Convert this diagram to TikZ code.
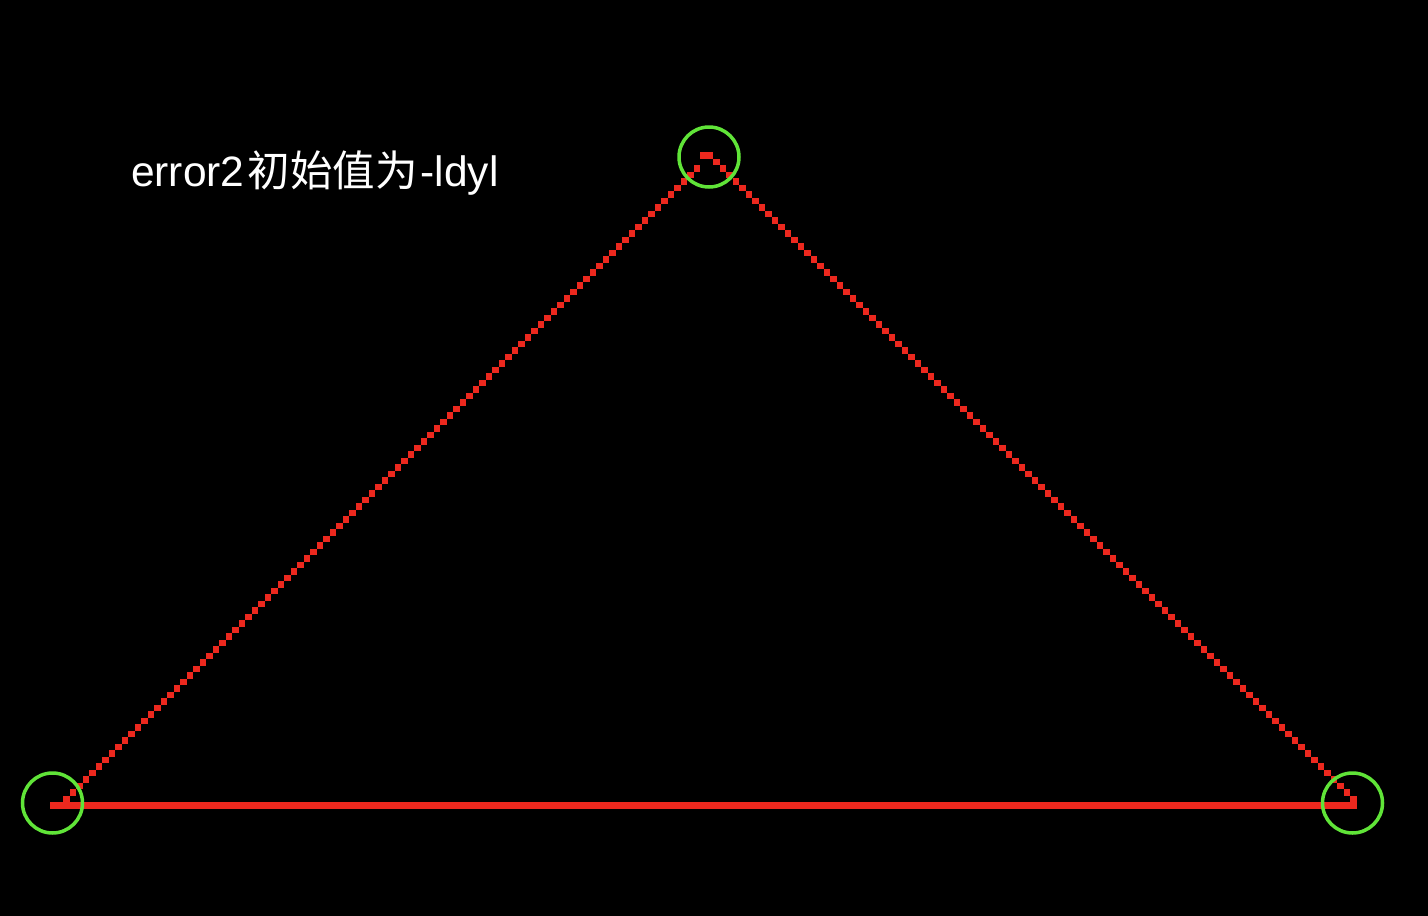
\documentclass[tikz,border=0pt]{standalone}
\usepackage{fontspec}
\setmainfont{Liberation Sans}
\newfontfamily\cjk{Noto Sans CJK SC}
\definecolor{pxred}{RGB}{236,40,30}
\definecolor{ringgreen}{RGB}{96,228,56}
\begin{document}
\begin{tikzpicture}[x=1pt,y=-1pt,
  px/.style={fill=pxred},
  ring/.style={draw=ringgreen,line width=3.5pt,circle,minimum size=60pt,inner sep=0pt}]
\fill[black] (0,0) rectangle (1428,916);
\useasboundingbox (0,0) rectangle (1428,916);
% bottom line (row 0)
\fill[px] (50,802) rectangle (1356.5,808.5);
% left edge
\foreach \r in {1,...,98}
  \fill[px] ({50+6.5*(\r+1)},{802-6.5*\r}) rectangle ++(6.5,6.5);
% apex
\fill[px] (700,152) rectangle (713,158.5);
% right edge
\foreach \r in {1,...,99}
  \fill[px] ({50+6.5*(201-\r)},{802-6.5*\r}) rectangle ++(6.5,6.5);
% rings
\node[ring] (bl) at (52.5,803) {};
\node[ring] (top) at (709,157) {};
\node[ring] (br) at (1352.5,803) {};
% label
\node[anchor=base west,inner sep=0pt,text=white,font=\fontsize{42.5}{50}\selectfont] (lbl) at (131,186) {error2\kern3pt{\cjk 初始值为}\kern3pt-ldyl};
\end{tikzpicture}
\end{document}
